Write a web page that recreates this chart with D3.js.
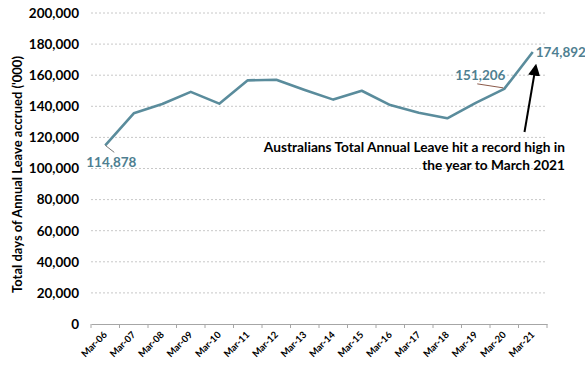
<!DOCTYPE html>
<html><head><meta charset="utf-8">
<script src="https://cdn.jsdelivr.net/npm/d3@7"></script>
<style>body{margin:0;background:#fff}svg{display:block}text{font-family:Lato,"Open Sans",sans-serif;font-weight:bold}</style>
</head><body><svg id="c" width="585" height="381"></svg>
<script>
const categories = ["Mar-06","Mar-07","Mar-08","Mar-09","Mar-10","Mar-11","Mar-12","Mar-13","Mar-14","Mar-15","Mar-16","Mar-17","Mar-18","Mar-19","Mar-20","Mar-21"];
const values = [114878,135500,141500,149300,141700,156700,157100,150500,144300,150000,140800,135900,132300,142200,151206,174892];
const yTicks = [0,20000,40000,60000,80000,100000,120000,140000,160000,180000,200000];
const annotation = ["Australians Total Annual Leave hit a record high in","the year to March 2021"];
const yTitle = "Total days of Annual Leave accrued ('000)";

const svg = d3.select("#c");
const m = {l:91, r:547, t:13, b:324};
const x = d3.scaleBand().domain(categories).range([m.l, m.r]);
const y = d3.scaleLinear().domain([0,200000]).range([m.b, m.t]);
const cx = d => x(d) + x.bandwidth()/2;
const fmt = d3.format(",");
const lineColor = "#5a8c9c";

// gridlines
svg.append("g").selectAll("line").data(yTicks.filter(d=>d>0)).join("line")
  .attr("x1", m.l).attr("x2", m.r).attr("y1", d=>y(d)).attr("y2", d=>y(d))
  .attr("stroke","#c8c8c8").attr("stroke-width",1).attr("stroke-dasharray","2,2");

// y axis labels
const ya = svg.append("g").attr("transform",`translate(${m.l},0)`)
  .call(d3.axisLeft(y).tickValues(yTicks).tickFormat(fmt).tickSize(0).tickPadding(12));
ya.select(".domain").remove();
ya.selectAll("text").attr("font-size","13.5px").attr("fill","#000").style("font-family","Lato, sans-serif").style("font-weight","bold");

// x axis
const xa = svg.append("g").attr("transform",`translate(0,${m.b})`)
  .call(d3.axisBottom(x).tickSize(0));
xa.select(".domain").attr("stroke","#a6a6a6");
xa.selectAll("text").attr("font-size","9.5px").attr("fill","#000")
  .style("font-family","Lato, sans-serif").style("font-weight","bold")
  .attr("text-anchor","end").attr("transform","translate(0,9) rotate(-45)").attr("dy","0.35em").attr("y",0).attr("x",0);
// boundary ticks
const bounds = categories.map(c=>x(c)).concat([m.r]);
svg.append("g").selectAll("line").data(bounds).join("line")
  .attr("x1",d=>d).attr("x2",d=>d).attr("y1",m.b).attr("y2",m.b+4)
  .attr("stroke","#a6a6a6");

// y title
svg.append("text").attr("transform",`translate(22,${(m.t+m.b)/2+6}) rotate(-90)`)
  .attr("text-anchor","middle").attr("font-size","13px").text(yTitle);

// line
const data = categories.map((c,i)=>({c, v: values[i]}));
svg.append("path").datum(data)
  .attr("d", d3.line().x(d=>cx(d.c)).y(d=>y(d.v)))
  .attr("fill","none").attr("stroke",lineColor).attr("stroke-width",2.6).attr("stroke-linejoin","round");

// data labels
const labelColor = "#4f7f91";
const first = data[0], prev = data[14], last = data[15];
svg.append("line").attr("x1",cx(first.c)).attr("y1",y(first.v)).attr("x2",cx(first.c)+9).attr("y2",y(first.v)+7)
  .attr("stroke","#777").attr("stroke-width",1);
svg.append("text").attr("x",cx(first.c)-19).attr("y",y(first.v)+22).attr("font-size","13.5px").attr("fill",labelColor).text(fmt(first.v));
svg.append("line").attr("x1",cx(prev.c)-1).attr("y1",y(prev.v)-1).attr("x2",cx(prev.c)-27).attr("y2",y(prev.v)-5)
  .attr("stroke","#8b5a4a").attr("stroke-width",1);
svg.append("text").attr("x",cx(prev.c)-49).attr("y",y(prev.v)-9).attr("font-size","13.5px").attr("fill",labelColor).text(fmt(prev.v));
svg.append("text").attr("x",cx(last.c)+3).attr("y",y(last.v)+5).attr("font-size","13.5px").attr("fill",labelColor).text(fmt(last.v));

// arrow
svg.append("defs").append("marker").attr("id","ah").attr("viewBox","0 0 10 10").attr("refX",8).attr("refY",5)
  .attr("markerWidth",6).attr("markerHeight",6).attr("orient","auto")
  .append("path").attr("d","M0,0 L10,5 L0,10 Z").attr("fill","#000");
svg.append("line").attr("x1",524.5).attr("y1",132).attr("x2",cx(last.c)+3).attr("y2",y(last.v)+14)
  .attr("stroke","#000").attr("stroke-width",2).attr("marker-end","url(#ah)");

// annotation
svg.append("g").selectAll("text").data(annotation).join("text")
  .attr("x",565).attr("y",(d,i)=>152+i*18).attr("text-anchor","end").attr("font-size","13.7px").attr("fill","#000").text(d=>d);
</script></body></html>
